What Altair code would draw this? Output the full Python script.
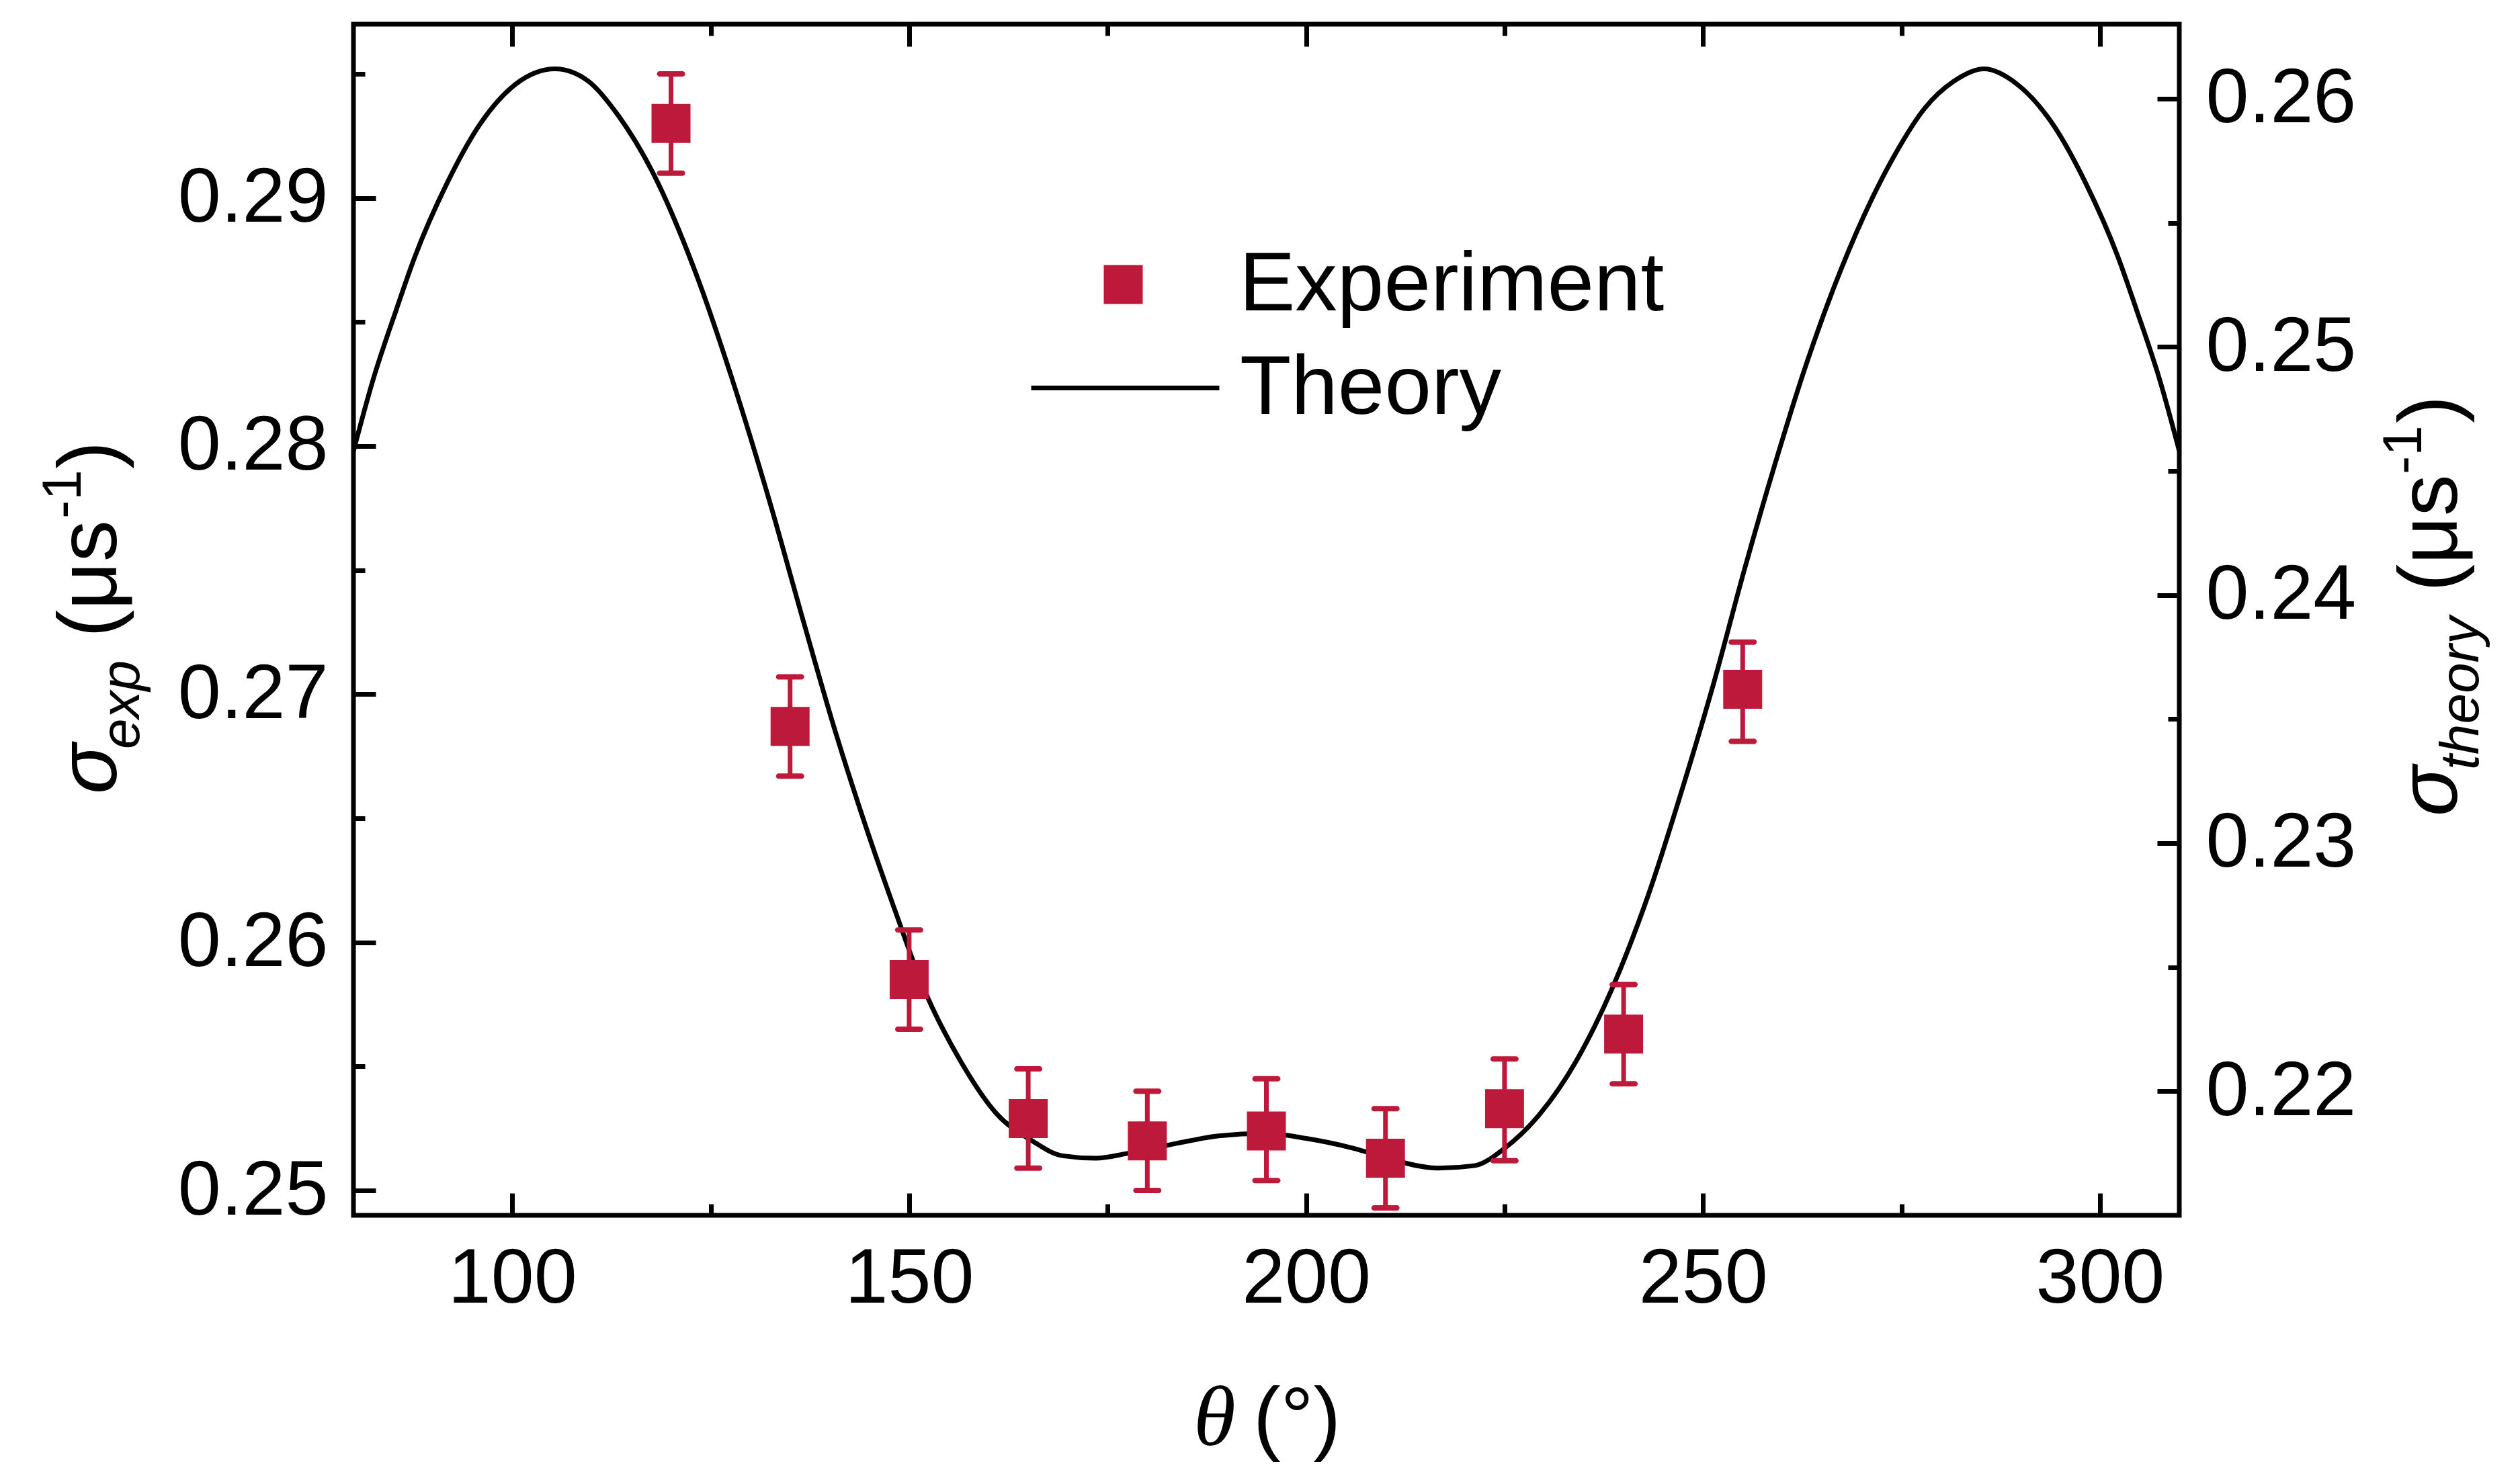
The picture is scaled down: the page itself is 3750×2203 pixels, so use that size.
import altair as alt
import pandas as pd

# ---------------- data ----------------
theta_exp = [120, 135, 150, 165, 180, 195, 210, 225, 240, 255]
sigma_exp = [0.2930, 0.2687, 0.2585, 0.2529, 0.2520, 0.2524, 0.2513, 0.2533, 0.2563, 0.2702]
err_low = [0.2910, 0.2667, 0.2565, 0.2509, 0.2500, 0.2504, 0.2493, 0.2512, 0.2543, 0.2681]
err_high = [0.2950, 0.2707, 0.2605, 0.2549, 0.2540, 0.2545, 0.2533, 0.2553, 0.2583, 0.2721]

theta_th = [80, 82.4, 85.4, 87.7, 91.8, 96, 100.5, 105.4, 109.6, 113.4, 117.9, 123.2,
            127.7, 132.3, 136.8, 140.6, 144.4, 148.2, 151.9, 156.5, 161, 165.5, 169.3,
            173.5, 177.6, 183.7, 189, 194.7, 200, 206, 211.3, 216.6, 221.2, 225, 229.5,
            234, 238.5, 243.1, 247.6, 251.4, 255.2, 259, 262.7, 266.5, 270.3, 274.1,
            277.9, 281.6, 285.4, 289.5, 294, 298.2, 302.3, 304.6, 307.6, 310]
sigma_th = [0.2458, 0.2486, 0.2515, 0.2536, 0.2566, 0.2590, 0.2606, 0.2612, 0.2607,
            0.2593, 0.2569, 0.2529, 0.2487, 0.2439, 0.2388, 0.2346, 0.2308, 0.2273,
            0.2241, 0.2212, 0.2191, 0.2180, 0.2174, 0.2173, 0.2175, 0.2179, 0.2182,
            0.2183, 0.2181, 0.2177, 0.2172, 0.2169, 0.2170, 0.2177, 0.2191, 0.2212,
            0.2241, 0.2279, 0.2324, 0.2365, 0.2410, 0.2452, 0.2490, 0.2524, 0.2553,
            0.2577, 0.2596, 0.2607, 0.2612, 0.2606, 0.2590, 0.2566, 0.2536, 0.2515,
            0.2486, 0.2458]

x_ticks = [100, 125, 150, 175, 200, 225, 250, 275, 300]
y_left_ticks = [0.25, 0.255, 0.26, 0.265, 0.27, 0.275, 0.28, 0.285, 0.29, 0.295]
y_right_ticks = [0.22, 0.225, 0.23, 0.235, 0.24, 0.245, 0.25, 0.255, 0.26]

series_names = ["Experiment", "Theory"]

exp_df = pd.DataFrame({"theta": theta_exp, "sigma": sigma_exp, "lower": err_low,
                       "upper": err_high, "series": series_names[0]})
th_df = pd.DataFrame({"theta": theta_th, "sigma_t": sigma_th, "series": series_names[1]})

# ---------------- styling ----------------
CRIMSON = "#BD1A3B"
FONT = "Liberation Sans"
LABEL_SIZE = 115
W, H = 2717, 1773

x_scale = alt.Scale(domain=[80, 310], nice=False, zero=False)
yl_scale = alt.Scale(domain=[0.249, 0.297], nice=False, zero=False)
yr_scale = alt.Scale(domain=[0.215, 0.263], nice=False, zero=False)

common_axis = dict(domain=False, grid=False, tickColor="black", tickWidth=7,
                   labelFont=FONT, labelFontSize=LABEL_SIZE, labelColor="black",
                   labelOverlap=False, labelFlush=False, labelLimit=3000, title=None)

x_tick_expr = {"expr": "datum.value % 50 == 0 ? -33 : -17"}
y_tick_expr = {"expr": "abs(round(datum.value*1000)) % 10 == 0 ? -33 : -17"}
y_label_expr = "abs(round(datum.value*1000)) % 10 == 0 ? format(datum.value, '.2f') : ''"

x_axis_bottom = alt.Axis(orient="bottom", values=x_ticks, tickSize=x_tick_expr,
                         labelExpr="datum.value % 50 == 0 ? format(datum.value, 'd') : ''",
                         labelPadding=71, **common_axis)
x_axis_top = alt.Axis(orient="top", values=x_ticks, tickSize=x_tick_expr,
                      labels=False, **common_axis)
y_axis_left = alt.Axis(orient="left", values=y_left_ticks, tickSize=y_tick_expr,
                       labelExpr=y_label_expr, labelPadding=71, **common_axis)
y_axis_right = alt.Axis(orient="right", values=y_right_ticks, tickSize=y_tick_expr,
                        labelExpr=y_label_expr, labelPadding=72, **common_axis)

X = alt.X("theta:Q", scale=x_scale, axis=x_axis_bottom)

# ---------------- experiment layer ----------------
err_rule = alt.Chart(exp_df).mark_rule(color=CRIMSON, strokeWidth=7).encode(
    x=X,
    y=alt.Y("lower:Q", scale=yl_scale, axis=y_axis_left),
    y2="upper:Q",
)
cap_hi = alt.Chart(exp_df).mark_tick(color=CRIMSON, orient="horizontal", size=42,
                                     thickness=8, cornerRadius=4, opacity=1).encode(
    x=X, y=alt.Y("upper:Q", scale=yl_scale, axis=y_axis_left))
cap_lo = alt.Chart(exp_df).mark_tick(color=CRIMSON, orient="horizontal", size=42,
                                     thickness=8, cornerRadius=4, opacity=1).encode(
    x=X, y=alt.Y("lower:Q", scale=yl_scale, axis=y_axis_left))
points = alt.Chart(exp_df).mark_point(shape="square", filled=True, size=3364,
                                      opacity=1, strokeWidth=0).encode(
    x=X,
    y=alt.Y("sigma:Q", scale=yl_scale, axis=y_axis_left),
    color=alt.Color("series:N",
                    scale=alt.Scale(domain=[series_names[0]], range=[CRIMSON]),
                    legend=alt.Legend(orient="none", legendX=1083, legendY=325,
                                      padding=0, title=None, symbolType="square",
                                      symbolSize=3364, symbolStrokeWidth=0,
                                      symbolOpacity=1,
                                      labelFont=FONT, labelFontSize=125,
                                      labelColor="black", labelLimit=3000,
                                      labelOffset=110)),
)
exp_layer = alt.layer(err_rule, cap_hi, cap_lo, points)

# ---------------- theory layer ----------------
theory = alt.Chart(th_df).mark_line(strokeWidth=7, interpolate="monotone").encode(
    x=alt.X("theta:Q", scale=x_scale, axis=x_axis_top),
    y=alt.Y("sigma_t:Q", scale=yr_scale, axis=y_axis_right),
    color=alt.Color("series:N",
                    scale=alt.Scale(domain=[series_names[1]], range=["black"]),
                    legend=alt.Legend(orient="none", legendX=1005, legendY=398,
                                      padding=0, title=None, symbolType="stroke",
                                      symbolSize=78400, symbolStrokeWidth=7,
                                      labelFont=FONT, labelFontSize=125,
                                      labelColor="black", labelLimit=3000,
                                      labelOffset=27)),
)

# ---------------- axis titles (rich text pieces) ----------------
def piece(txt, x, y, size, italic=False, angle=270, font=FONT):
    kw = dict(text=txt, font=font, fontSize=size, angle=angle, align="left",
              baseline="alphabetic", color="black")
    if italic:
        kw["fontStyle"] = "italic"
    return alt.Chart().mark_text(**kw).encode(x=alt.value(x), y=alt.value(y))

MAIN, SUB = 124, 82
left_title = [
    piece("σ", -353, 1146, MAIN, italic=True),
    piece("exp", -319, 1079, SUB, italic=True),
    piece("(μs", -353, 913, MAIN),
    piece("-1", -406, 736, SUB),
    piece(")", -353, 662, MAIN),
]
right_title = [
    piece("σ", 3130, 1179, MAIN, italic=True),
    piece("theory", 3162, 1110, SUB, italic=True),
    piece("(μs", 3130, 845, MAIN),
    piece("-1", 3077, 670, SUB),
    piece(")", 3130, 594, MAIN),
]
x_title = [
    piece("θ", 1250, 2115, 128, italic=True, angle=0, font="Liberation Serif"),
    piece("(°)", 1339, 2115, 122, angle=0),
]

chart = alt.layer(theory, exp_layer, *left_title, *right_title, *x_title).resolve_scale(
    x="independent", y="independent", color="independent"
).properties(
    width=W, height=H,
    autosize=alt.AutoSizeParams(type="none"),
    padding={"left": 518, "top": 28, "right": 480, "bottom": 370},
).configure(background="white").configure_view(stroke="black", strokeWidth=7)

chart.save("out.html", embed_options={"renderer": "svg", "actions": False})
